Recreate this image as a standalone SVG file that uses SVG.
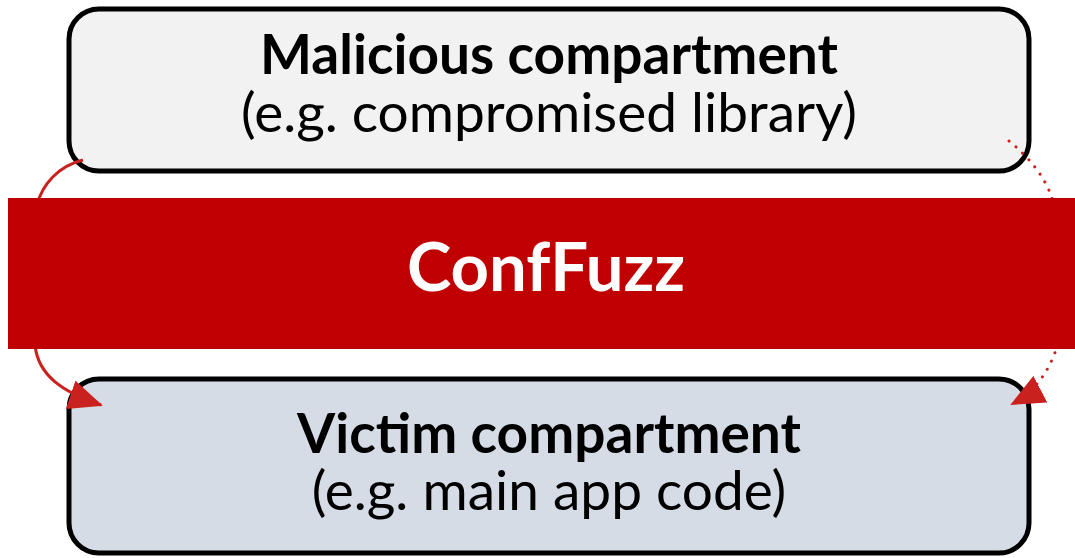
<svg xmlns="http://www.w3.org/2000/svg" width="1075" height="558" viewBox="0 0 1075 558">
<style>
.box{stroke:#000;stroke-width:5}
.t{font-family:Lato,"Liberation Sans",sans-serif;text-anchor:middle;fill:#000}
.b{font-weight:bold}
.arr{fill:none;stroke:#c9211e;stroke-width:3}
</style>
<defs>
<marker id="ah2" markerWidth="34" markerHeight="30" refX="32" refY="15" orient="auto" markerUnits="userSpaceOnUse" viewBox="0 0 34 30">
<path d="M0,0 L34,15 L0,30 z" fill="#c9211e"/>
</marker>
</defs>
<g id="malicious">
<rect class="box" x="69" y="9" width="960" height="162" rx="30" fill="#f2f2f2"/>
<text class="t b" x="549" y="74" font-size="55">Malicious compartment</text>
<text class="t" x="549" y="132" font-size="55">(e.g. compromised library)</text>
</g>
<g id="victim">
<rect class="box" x="69" y="379" width="960" height="174" rx="30" fill="#d6dce5"/>
<text class="t b" x="549" y="453" font-size="55">Victim compartment</text>
<text class="t" x="549" y="510" font-size="55">(e.g. main app code)</text>
</g>
<g id="connectors">
<path class="arr" d="M83,160 C58,166 42,185 37,205 L35,345 C38,375 62,392 101,405" marker-end="url(#ah2)"/>
<path class="arr" d="M1009,141 C1030,158 1048,180 1054,205 L1056,350 C1048,372 1035,392 1012,404" stroke-dasharray="0.1 9" stroke-linecap="round" stroke-width="4" marker-end="url(#ah2)"/>
</g>
<g id="confuzz">
<rect x="8" y="198" width="1067" height="151" fill="#c00000"/>
<text class="t b" x="546" y="291" font-size="67" style="fill:#fff">ConfFuzz</text>
</g>
</svg>
